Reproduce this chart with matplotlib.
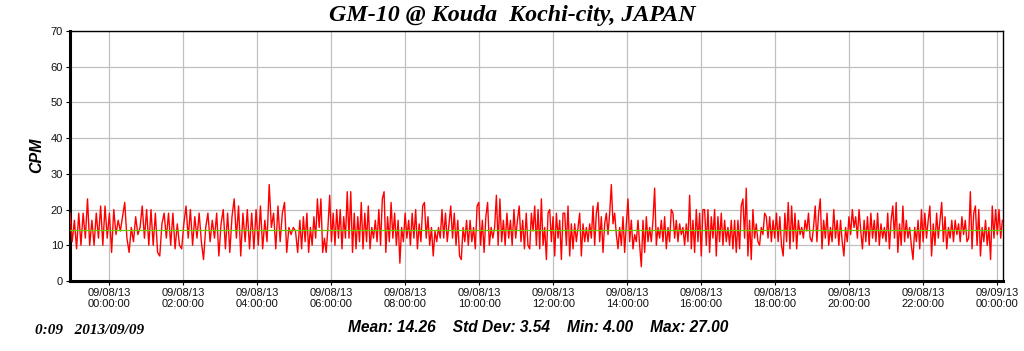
import numpy as np
import matplotlib
matplotlib.use("Agg")
import matplotlib.pyplot as plt
import matplotlib.dates as mdates
from datetime import datetime

# ---- data (CPM readings in four time segments) ----
seg_bounds = ["2013-09-07 22:56", "2013-09-08 05:09", "2013-09-08 11:22",
              "2013-09-08 17:35", "2013-09-09 00:09"]

cpm_seg1 = [19, 11, 17, 9, 19, 10, 19, 12, 23, 10, 17, 10, 19, 12, 21, 10, 21, 12, 19, 8,
            20, 13, 17, 14, 18, 22, 12, 8, 15, 11, 18, 13, 15, 21, 12, 20, 10, 20, 10, 19,
            8, 7, 16, 19, 12, 19, 10, 19, 9, 16, 10, 9, 16, 21, 12, 20, 10, 18, 12, 19,
            11, 6, 15, 19, 11, 17, 12, 19, 7, 16, 20, 9, 19, 8, 18, 23, 12, 21, 7, 19,
            11, 20, 9, 19, 9, 20, 10, 21, 9, 17, 11, 27, 15, 19, 9, 21, 11, 19, 22, 8,
            15, 13, 15, 14, 8]
cpm_seg2 = [17, 9, 18, 11, 19, 8, 15, 10, 18, 12, 23, 15, 23, 8, 12, 8, 15, 24, 11, 19,
            10, 20, 12, 20, 9, 18, 12, 25, 12, 25, 8, 19, 9, 18, 11, 22, 9, 19, 11, 21,
            9, 15, 12, 17, 11, 20, 10, 23, 25, 8, 18, 11, 22, 12, 19, 10, 17, 5, 15, 11,
            19, 12, 17, 10, 19, 12, 20, 9, 16, 11, 21, 22, 12, 18, 10, 15, 7, 14, 11, 15,
            12, 20, 12, 19, 11, 16, 21, 12, 19, 10, 17, 7, 6, 15, 11, 17, 10, 17, 11, 15,
            9, 21, 22, 10, 17, 8, 18, 22, 10, 15, 12, 15, 24, 10, 23, 11, 17, 10, 19, 12,
            17, 10, 20, 12, 17, 21, 11, 17, 9, 19, 10]
cpm_seg3 = [9, 19, 14, 21, 10, 20, 9, 23, 10, 15, 6, 19, 20, 11, 18, 7, 19, 12, 17, 6,
            19, 19, 10, 21, 7, 16, 9, 16, 11, 15, 19, 7, 16, 11, 15, 11, 16, 12, 21, 10,
            19, 22, 11, 18, 8, 16, 19, 13, 19, 27, 16, 19, 13, 9, 15, 10, 18, 8, 16, 23,
            11, 17, 9, 13, 11, 17, 10, 4, 17, 8, 18, 11, 15, 11, 17, 26, 10, 15, 12, 17,
            11, 18, 9, 15, 11, 20, 19, 12, 17, 11, 16, 13, 15, 10, 16, 11, 24, 9, 17, 8,
            20, 11, 19, 7, 20, 20, 10, 20, 8, 18, 12, 20, 7, 18, 11, 19, 10, 17, 11, 15,
            10, 17, 9, 17, 8, 17, 9, 21, 23, 12, 26, 7, 17, 6, 20, 12, 16, 11]
cpm_seg4 = [10, 15, 13, 19, 18, 12, 18, 11, 17, 12, 19, 11, 18, 10, 7, 19, 11, 22, 9, 21,
            11, 19, 9, 17, 13, 15, 12, 17, 14, 19, 12, 11, 15, 21, 11, 19, 23, 9, 17, 12,
            19, 10, 15, 11, 20, 12, 17, 10, 17, 11, 7, 15, 11, 18, 13, 20, 15, 18, 12, 20,
            14, 9, 17, 11, 18, 10, 19, 12, 17, 11, 19, 10, 16, 12, 15, 11, 19, 9, 17, 21,
            12, 22, 8, 16, 10, 21, 11, 17, 12, 15, 10, 6, 15, 11, 17, 9, 20, 11, 19, 12,
            17, 21, 7, 16, 10, 19, 12, 17, 22, 11, 18, 9, 15, 12, 17, 11, 17, 13, 16, 11,
            18, 13, 17, 11, 12, 25, 9, 19, 21, 10, 20, 7, 15, 11, 17, 10, 15, 6, 21, 12,
            20, 13, 20, 12, 17]

mean_cpm = 14.26
std_cpm = 3.54
min_cpm = 4.00
max_cpm = 27.00
title = "GM-10 @ Kouda  Kochi-city, JAPAN"
stamp = "0:09   2013/09/09"

# ---- build time axis ----
segs = [cpm_seg1, cpm_seg2, cpm_seg3, cpm_seg4]
bounds = [mdates.date2num(datetime.strptime(b, "%Y-%m-%d %H:%M")) for b in seg_bounds]
times, vals = [], []
for i, s in enumerate(segs):
    last = (i == len(segs) - 1)
    t = np.linspace(bounds[i], bounds[i + 1], len(s), endpoint=last)
    times.extend(t)
    vals.extend(s)
times = np.array(times)
vals = np.array(vals, dtype=float)

fig = plt.figure(figsize=(10.24, 3.51), dpi=100)
ax = fig.add_axes([70 / 1024, 1 - 281 / 351, 933 / 1024, 250 / 351])

ax.plot(times, vals, color="#ff0000", lw=1.0, zorder=3)
ax.axhline(mean_cpm, color="#66cc00", lw=0.9, zorder=4)

ax.set_ylim(0, 70)
ax.set_yticks(np.arange(0, 71, 10))
xmin = mdates.date2num(datetime(2013, 9, 7, 22, 56))
xmax = mdates.date2num(datetime(2013, 9, 9, 0, 10))
ax.set_xlim(xmin, xmax)
ax.xaxis.set_major_locator(mdates.HourLocator(byhour=range(0, 24, 2)))
ax.xaxis.set_major_formatter(mdates.DateFormatter("%m/%d/%y\n%H:%M:%S"))

ax.grid(True, color="#c0c0c0", lw=0.9, zorder=0)
ax.set_axisbelow(True)

for side in ("top", "right"):
    ax.spines[side].set_linewidth(1.0)
for side in ("left", "bottom"):
    ax.spines[side].set_linewidth(2.2)

ax.tick_params(axis="both", labelsize=8, length=3, width=0.8, pad=2,
               labelcolor="#111111")
for lab in ax.get_xticklabels() + ax.get_yticklabels():
    lab.set_family("Liberation Sans")
for lab in ax.get_xticklabels():
    lab.set_linespacing(1.15)

fig.text(37 / 1024, 1 - 155.5 / 351, "CPM", rotation=90, ha="center", va="center",
         fontsize=11.5, fontweight="bold", fontstyle="italic", family="Liberation Sans")

fig.text(0.5, 1 - 16 / 351, title, ha="center", va="center", fontsize=17.3,
         fontweight="bold", fontstyle="italic", family="Liberation Serif")

stats = (f"Mean: {mean_cpm:.2f}    Std Dev: {std_cpm:.2f}    "
         f"Min: {min_cpm:.2f}    Max: {max_cpm:.2f}")
fig.text(538 / 1024, 1 - 327 / 351, stats, ha="center", va="center", fontsize=11.2,
         fontweight="bold", fontstyle="italic", family="Liberation Sans")
fig.text(35 / 1024, 1 - 331 / 351, stamp, ha="left", va="center", fontsize=11,
         fontweight="bold", fontstyle="italic", family="Liberation Serif")

fig.savefig("out.png", dpi=100, facecolor="white")
